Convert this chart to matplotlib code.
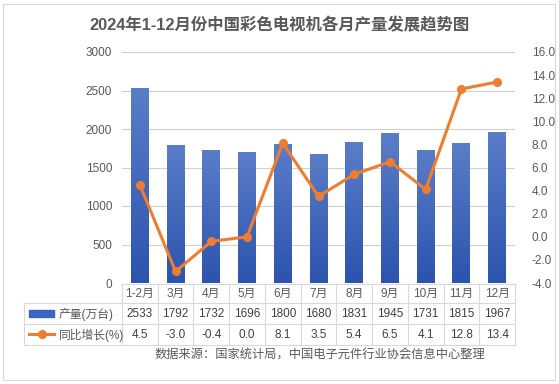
import numpy as np
import matplotlib
matplotlib.use("Agg")
import matplotlib.pyplot as plt
import matplotlib.transforms as mtransforms
from matplotlib.colors import LinearSegmentedColormap
from matplotlib.lines import Line2D
from matplotlib.patches import Rectangle

plt.rcParams['font.family'] = ['Liberation Sans', 'Noto Sans CJK SC', 'DejaVu Sans']

# data
months = ["1-2月", "3月", "4月", "5月", "6月", "7月", "8月", "9月", "10月", "11月", "12月"]
output = [2533, 1792, 1732, 1696, 1800, 1680, 1831, 1945, 1731, 1815, 1967]
growth = [4.5, -3.0, -0.4, 0.0, 8.1, 3.5, 5.4, 6.5, 4.1, 12.8, 13.4]
bar_label = "产量(万台)"
line_label = "同比增长(%)"
title = "2024年1-12月份中国彩色电视机各月产量发展趋势图"
source = "数据来源：国家统计局，中国电子元件行业协会信息中心整理"

W, H = 559, 384
fig = plt.figure(figsize=(W / 100, H / 100), dpi=100)
fig.patch.set_facecolor("white")

# outer border
fig.add_artist(Rectangle((3 / W, 4 / H), 552 / W, 376 / H, transform=fig.transFigure,
                         fill=False, edgecolor="#D9D9D9", linewidth=0.8))

L, R, T, B = 122, 515, 52, 283
ax = fig.add_axes([L / W, 1 - B / H, (R - L) / W, (B - T) / H])
x = np.arange(len(months))

bars = ax.bar(x, output, width=0.5, color="#3A66C0", zorder=2)
ax.set_yticks(range(0, 3001, 500))
ax.grid(axis="y", color="#D0D0D0", linewidth=0.8, zorder=0)
ax.set_xticks([])
for s in ax.spines.values():
    s.set_visible(False)
ax.tick_params(axis="y", length=0, labelsize=8.5, labelcolor="#595959", pad=7)

# gradient fill on bars
cmap = LinearSegmentedColormap.from_list("bg", ["#2C54AE", "#5A7DC8"])
grad = np.linspace(0, 1, 100).reshape(-1, 1)
for b in bars:
    bx, by = b.get_x(), b.get_y()
    im = ax.imshow(grad, cmap=cmap, origin="lower", aspect="auto",
                   extent=(bx, bx + b.get_width(), by, by + b.get_height()), zorder=2)
    im.set_clip_path(b)
ax.set_xlim(-0.5, len(months) - 0.5)
ax.set_ylim(0, 3000)

ax2 = ax.twinx()
ax2.plot(x, growth, color="#ED7D31", linewidth=2.2, marker="o", markersize=5.5, zorder=3)
ax2.set_ylim(-4, 16)
ax2.set_yticks(range(-4, 17, 2))
ax2.set_yticklabels([f"{v:.1f}" for v in range(-4, 17, 2)])
for s in ax2.spines.values():
    s.set_visible(False)
ax2.tick_params(axis="y", length=0, labelsize=8.5, labelcolor="#595959", pad=12)

# data table under the plot
tr = mtransforms.blended_transform_factory(ax.transData, ax.transAxes)
hp = B - T
def ay(py):
    return (B - py) / hp

grid_kw = dict(color="#D9D9D9", linewidth=0.8, clip_on=False)
xl = -0.5 - (L - 24) / ((R - L) / len(months))
n = len(months)
ax.add_line(Line2D([-0.5, n - 0.5], [ay(284)] * 2, transform=tr, **grid_kw))
for yy in (303, 324, 345):
    ax.add_line(Line2D([xl, n - 0.5], [ay(yy)] * 2, transform=tr, **grid_kw))
for i in range(n + 1):
    ax.add_line(Line2D([i - 0.5] * 2, [ay(284), ay(345)], transform=tr, **grid_kw))
ax.add_line(Line2D([xl] * 2, [ay(303), ay(345)], transform=tr, **grid_kw))

for i in range(n):
    ax.text(i, ay(294), months[i], transform=tr, ha="center", va="center",
            fontsize=8.5, color="#595959")
    ax.text(i, ay(314), f"{output[i]}", transform=tr, ha="center", va="center",
            fontsize=8.5, color="#404040")
    ax.text(i, ay(335), f"{growth[i]:.1f}", transform=tr, ha="center", va="center",
            fontsize=8.5, color="#404040")

# legend keys inside the table
kx0 = xl + 5 / 35.7
kx1 = xl + 30 / 35.7
ax.add_patch(Rectangle((kx0, ay(317)), kx1 - kx0, ay(310) - ay(317), transform=tr,
                       color="#3A66C0", clip_on=False))
ax.text(kx1 + 5 / 35.7, ay(314), bar_label, transform=tr, ha="left", va="center",
        fontsize=8.5, color="#595959")
ax.add_line(Line2D([kx0, kx1], [ay(334)] * 2, transform=tr, color="#ED7D31",
                   linewidth=2.2, clip_on=False))
ax.add_line(Line2D([(kx0 + kx1) / 2], [ay(334)], transform=tr, color="#ED7D31",
                   marker="o", markersize=5.5, clip_on=False))
ax.text(kx1 + 5 / 35.7, ay(335), line_label, transform=tr, ha="left", va="center",
        fontsize=8.5, color="#595959")

fig.text(279 / W, 1 - 25 / H, title, ha="center", va="center", fontsize=11.8,
         fontweight="bold", color="#595959")
fig.text(320 / W, 1 - 355 / H, source, ha="center", va="center", fontsize=8.8,
         color="#595959")

fig.savefig("out.png", dpi=100)
